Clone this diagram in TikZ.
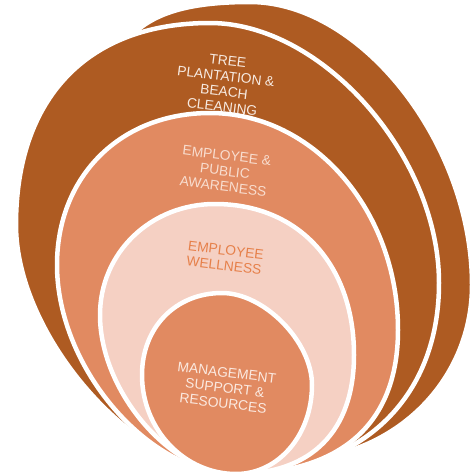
\documentclass[tikz,border=0pt]{standalone}
\usepackage{fontspec}
\setmainfont{Liberation Sans}
\definecolor{darkbrown}{HTML}{AE5B22}
\definecolor{midorange}{HTML}{E18A61}
\definecolor{lightpink}{HTML}{F5D0C3}
\definecolor{txtdark}{HTML}{F7EAE1}
\definecolor{txtmid}{HTML}{F8DDCF}
\definecolor{txtlight}{HTML}{E6804A}
\definecolor{txtinner}{HTML}{FBE9E0}
\begin{document}
\begin{tikzpicture}[x=1pt,y=-1pt,
  ring/.style={fill=#1, draw=white, line width=4.5pt, line join=round},
  lbl/.style={font=\fontsize{13.8}{15.5}\selectfont, align=center, rotate=-7, text=#1, inner sep=0pt}]
\useasboundingbox (0,0) rectangle (471,474);
% back shape
\draw[ring=darkbrown] (100,150) .. controls (100,39) and (137.5,2) .. (250,2)
  .. controls (361,2) and (472,143.5) .. (472,285)
  .. controls (472,383) and (391.8,460) .. (290,460)
  .. controls (185.5,460) and (100,320.5) .. cycle;
% front dark
\draw[ring=darkbrown] (16,225) .. controls (16,97.7) and (87.8,23) .. (210,23)
  .. controls (322.2,23) and (439,155.6) .. (439,283)
  .. controls (439,399.5) and (359.8,474) .. (236,474)
  .. controls (137,474) and (16,337) .. cycle;
% medium
\draw[ring=midorange] (57,265) .. controls (57,176.1) and (120.5,113) .. (210,113)
  .. controls (313.4,113) and (398,210.65) .. (398,330)
  .. controls (398,423.6) and (341.3,474) .. (236,474)
  .. controls (148.3,474) and (57,367.4) .. cycle;
% light
\draw[ring=lightpink] (100,315) .. controls (100,252.8) and (150.6,204) .. (215,204)
  .. controls (298.4,204) and (354,264.4) .. (354,355)
  .. controls (354,431.2) and (311.5,474) .. (236,474)
  .. controls (170.7,474) and (100,391.3) .. cycle;
% inner
\draw[ring=midorange] (142,375) .. controls (142,327.4) and (175.6,293) .. (222,293)
  .. controls (264.3,293) and (312,341.8) .. (312,385)
  .. controls (312,434.8) and (278.6,474) .. (236,474)
  .. controls (184.3,474) and (142,429.5) .. cycle;
\node[lbl=txtdark] (tree) at (225,84) {TREE\\PLANTATION \&\\BEACH\\CLEANING};
\node[lbl=txtmid] (aware) at (225,171) {EMPLOYEE \&\\PUBLIC\\AWARENESS};
\node[lbl=txtlight] (well) at (225,258) {EMPLOYEE\\WELLNESS};
\node[lbl=txtinner] (mgmt) at (225,388) {MANAGEMENT\\SUPPORT \&\\RESOURCES};
\end{tikzpicture}
\end{document}
